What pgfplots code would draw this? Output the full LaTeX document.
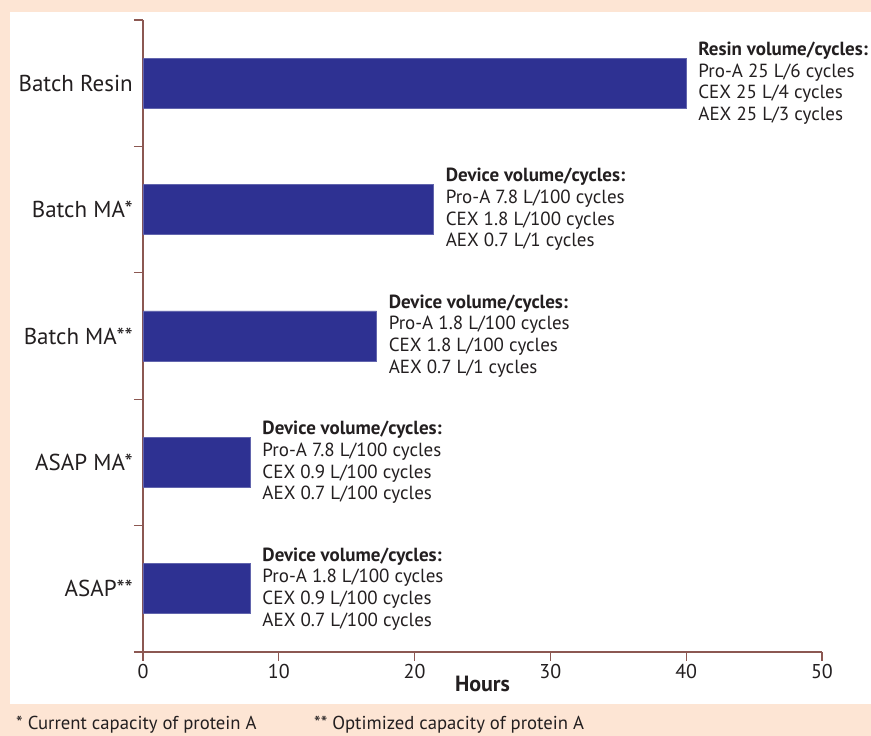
\documentclass[border=0pt]{standalone}
\usepackage{fontspec}
\setmainfont{PT Sans}
\usepackage{pgfplots}
\pgfplotsset{compat=1.18}
\definecolor{peach}{RGB}{253,229,212}
\definecolor{barblue}{RGB}{46,49,146}
\definecolor{axbrown}{RGB}{140,88,82}
\definecolor{txt}{RGB}{35,31,32}

\begin{document}
\begin{tikzpicture}[x=1pt,y=1pt]
% page background and white panel
\fill[peach] (0,0) rectangle (871,736);
\fill[white] (10,32) rectangle (871,724);
\begin{axis}[
  at={(143pt,84pt)}, anchor=south west,
  scale only axis, width=679pt, height=632pt,
  xmin=0, xmax=50, ymin=-0.5, ymax=4.5,
  axis lines*=left,
  axis line style={axbrown, line width=1.1pt},
  tick style={axbrown, line width=1.1pt},
  tick align=outside, major tick length=9pt,
  xtick={0,10,...,50},
  ytick={-0.5,0.5,...,4.5}, yticklabels={},
  extra y ticks={0,1,2,3,4},
  extra y tick labels={ASAP**, ASAP MA*, Batch MA**, Batch MA*, Batch Resin},
  extra y tick style={major tick length=0pt, yticklabel style={xshift=-10pt}},
  yticklabel style={font=\fontsize{23}{27}\selectfont, color=txt, inner sep=0pt},
  xticklabel style={font=\fontsize{20}{22}\selectfont, color=txt},
  /pgf/number format/assume math mode=true,
  xlabel={\textbf{Hours}},
  xlabel style={font=\fontsize{22}{24}\selectfont, color=txt, yshift=10pt},
  clip=false,
]
\addplot[xbar, bar width=50pt, fill=barblue, draw=barblue!75!white, line width=0.6pt]
  coordinates {(40,4) (21.4,3) (17.2,2) (7.9,1) (7.9,0)};

\tikzset{ann/.style={anchor=west, align=left, inner sep=0pt, xshift=12pt, color=txt,
  font=\fontsize{19}{21.7}\selectfont}}
\node[ann] at (axis cs:40,4) {\textbf{Resin volume/cycles:}\\Pro-A 25 L/6 cycles\\CEX 25 L/4 cycles\\AEX 25 L/3 cycles};
\node[ann] at (axis cs:21.4,3) {\textbf{Device volume/cycles:}\\Pro-A 7.8 L/100 cycles\\CEX 1.8 L/100 cycles\\AEX 0.7 L/1 cycles};
\node[ann] at (axis cs:17.2,2) {\textbf{Device volume/cycles:}\\Pro-A 1.8 L/100 cycles\\CEX 1.8 L/100 cycles\\AEX 0.7 L/1 cycles};
\node[ann] at (axis cs:7.9,1) {\textbf{Device volume/cycles:}\\Pro-A 7.8 L/100 cycles\\CEX 0.9 L/100 cycles\\AEX 0.7 L/100 cycles};
\node[ann] at (axis cs:7.9,0) {\textbf{Device volume/cycles:}\\Pro-A 1.8 L/100 cycles\\CEX 0.9 L/100 cycles\\AEX 0.7 L/100 cycles};
\end{axis}
% footnotes
\node[anchor=base west, inner sep=0pt, color=txt, font=\fontsize{18.7}{20}\selectfont] at (16,6) {* Current capacity of protein A};
\node[anchor=base west, inner sep=0pt, color=txt, font=\fontsize{18.7}{20}\selectfont] at (314,6) {** Optimized capacity of protein A};
\pgfresetboundingbox
\useasboundingbox (0,0) rectangle (871,736);
\end{tikzpicture}
\end{document}
